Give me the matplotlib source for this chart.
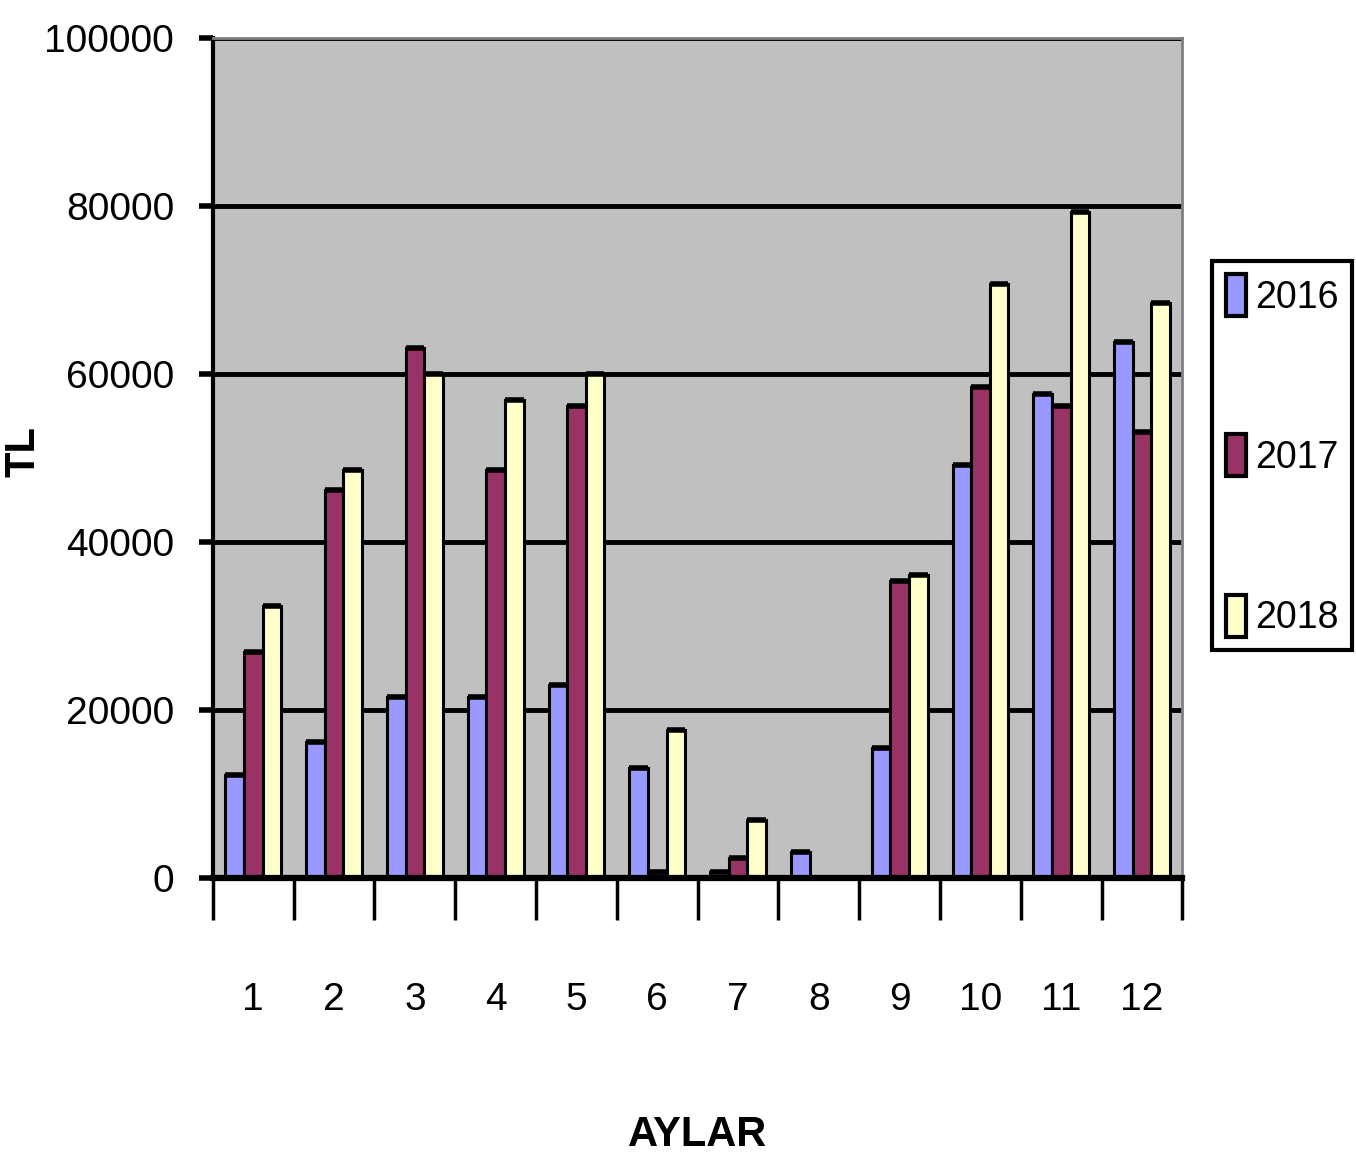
import numpy as np
from matplotlib import pyplot as plt
from matplotlib.ticker import FixedLocator

months = [str(m) for m in range(1, 13)]
years = ['2016', '2017', '2018']
v2016 = [12300, 16200, 21500, 21500, 23000, 13100, 700, 3100, 15500, 49200, 57600, 63800]
v2017 = [26900, 46200, 63100, 48500, 56200, 700, 2400, 0, 35400, 58500, 56200, 53100]
v2018 = [32400, 48500, 60000, 56900, 60000, 17600, 6900, 0, 36100, 70700, 79300, 68500]
colors = ['#9999FF', '#993366', '#FFFFCC']

plt.rcParams['font.family'] = ['Liberation Sans', 'DejaVu Sans']

fig = plt.figure(figsize=(13.56, 11.72), dpi=100)
ax = fig.add_axes([0.157, 0.251, 0.715, 0.7166])
ax.set_facecolor('#C0C0C0')

x = np.arange(1, 13)
w = 0.23
for i, (vals, c, yr) in enumerate(zip([v2016, v2017, v2018], colors, years)):
    xs = x + (i - 1) * w
    ax.bar(xs, vals, width=w, color=c, edgecolor='black',
           linewidth=2.2, label=yr, zorder=3)
    # thicker top edge like the original
    ax.hlines(vals, xs - w / 2, xs + w / 2, color='black', linewidth=4, zorder=4)

ax.set_xlim(0.5, 12.5)
ax.set_ylim(0, 100000)
ax.set_yticks(range(0, 100001, 20000))
ax.set_yticklabels([str(v) for v in range(0, 100001, 20000)], fontsize=28)
ax.yaxis.grid(True, color='black', linewidth=3.5, zorder=1)
ax.set_axisbelow(True)

ax.set_xticks(x)
ax.set_xticklabels(months, fontsize=28)
ax.xaxis.set_minor_locator(FixedLocator(np.arange(0.5, 13, 1)))
ax.tick_params(axis='x', which='major', length=0, pad=75)
ax.tick_params(axis='x', which='minor', length=30, width=2.5, color='black')
ax.tick_params(axis='y', length=10, width=4, pad=18)

ax.spines['left'].set_linewidth(3)
ax.spines['bottom'].set_linewidth(4.5)
ax.spines['bottom'].set_zorder(5)
ax.spines['top'].set_color('#808080')
ax.spines['right'].set_color('#808080')
ax.spines['top'].set_linewidth(2)
ax.spines['right'].set_linewidth(2)

ax.set_xlabel('AYLAR', fontsize=30, fontweight='bold', labelpad=70)
ax.set_ylabel('TL', fontsize=30, fontweight='bold')
ax.yaxis.set_label_coords(-0.175, 0.507)

leg = ax.legend(loc='center left', bbox_to_anchor=(1.031, 0.503), fontsize=27,
                frameon=True, fancybox=False, edgecolor='black', framealpha=1,
                handlelength=0.55, handleheight=1.35, handletextpad=0.25,
                labelspacing=3.15, borderpad=0.35, borderaxespad=0)
leg.get_frame().set_linewidth(3)
for h in leg.legend_handles:
    h.set_linewidth(3)

fig.savefig('out.png', dpi=100, facecolor='white')
